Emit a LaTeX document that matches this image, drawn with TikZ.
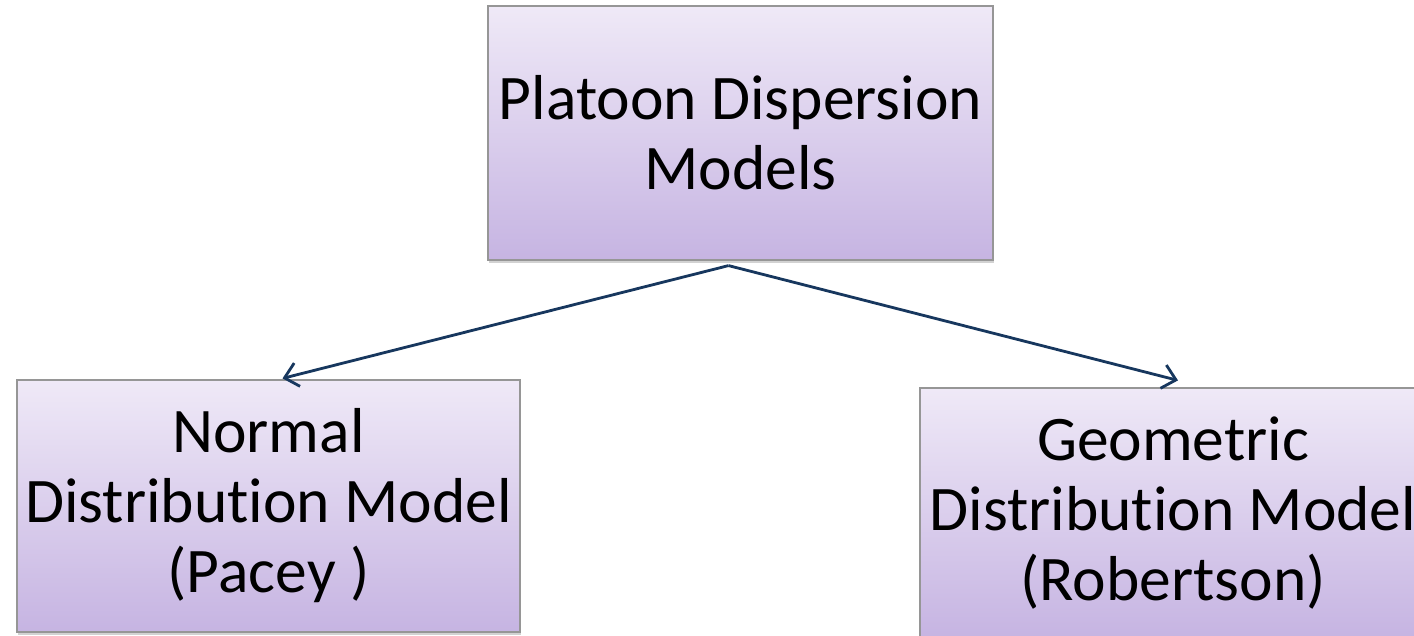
\documentclass[tikz,border=0pt]{standalone}
\usepackage{fontspec}
\setmainfont[Ligatures=NoCommon]{Carlito}
\usetikzlibrary{arrows.meta,shadows,calc}
\definecolor{boxtop}{RGB}{239,233,247}
\definecolor{boxbot}{RGB}{198,180,226}
\definecolor{boxline}{RGB}{150,150,150}
\definecolor{arrowcol}{RGB}{23,55,94}
\begin{document}
\begin{tikzpicture}[x=1pt,y=-1pt,
  mbox/.style={rectangle, draw=boxline, line width=1.2pt, top color=boxtop, bottom color=boxbot,
    inner sep=0pt, align=center, font=\fontsize{63.5}{70}\selectfont,
    drop shadow={opacity=0.35, shadow xshift=1pt, shadow yshift=-3pt}},
  conn/.style={draw=arrowcol, line width=2.8pt, -{Straight Barb[length=13pt,width=24pt]}}]
\useasboundingbox (0,0) rectangle (1414,635);
\fill[white] (0,0) rectangle (1414,635);
\node[mbox, minimum width=505pt, minimum height=254pt] (top) at (740.5,133) {Platoon Dispersion\\Models};
\node[mbox, minimum width=503pt, minimum height=252pt] (left) at (268.5,506) {Normal\\Distribution Model\\(Pacey )};
\node[mbox, minimum width=506pt, minimum height=250pt] (right) at (1173,513) {Geometric\\Distribution Model\\(Robertson)};
\coordinate (apex) at ($(top.south)+(-12,5)$);
\coordinate (lend) at ($(left.north)+(14,-1)$);
\coordinate (rend) at ($(right.north)+(5,-7)$);
\draw[conn] (apex) -- (lend);
\draw[conn] (apex) -- (rend);
\end{tikzpicture}
\end{document}
